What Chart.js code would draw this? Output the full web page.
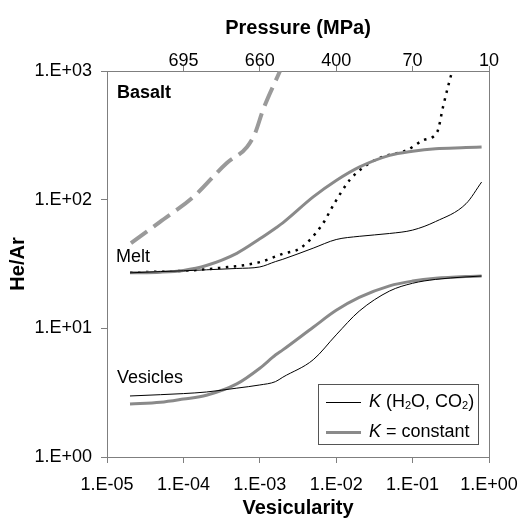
<!DOCTYPE html>
<html>
<head>
<meta charset="utf-8">
<title>He/Ar vs vesicularity</title>
<script src="https://cdn.jsdelivr.net/npm/chart.js@4.4.1/dist/chart.umd.min.js"></script>
<style>
    body { margin: 0; background: #fff; }
    #wrap { width: 522px; height: 520px; }
</style>
</head>
<body>
<div id="wrap"><canvas id="heArChart"></canvas></div>
<script>
// vesicularity steps shared by the four melt / vesicle curves
const vesicularity = [2e-5, 5e-5, 1e-4, 2e-4, 5e-4, 1e-3, 1.6e-3, 2e-3, 5e-3, 1e-2, 2e-2, 5e-2, 0.1, 0.2, 0.5, 0.8];

// He/Ar, K (H2O, CO2)
const meltVariableK = [27, 27.6, 28, 28.5, 29.2, 30, 33, 34.4, 42, 49, 51.9, 54.6, 58, 67.6, 93, 137];
const vesiclesVariableK = [2.98, 3.05, 3.11, 3.2, 3.43, 3.63, 3.85, 4.17, 5.7, 8.9, 13.6, 19.5, 22.4, 24, 25.1, 25.5];

// He/Ar, K = constant
const meltConstantK = [27, 27.3, 28.2, 30.8, 38.3, 49.6, 60, 66, 105, 141, 179, 221, 238, 249, 254, 257];
const vesiclesConstantK = [2.58, 2.66, 2.82, 3.02, 3.7, 4.9, 6.2, 6.8, 10.2, 13.8, 17.4, 21.4, 23.3, 24.5, 25.3, 25.5];

// dotted black curve
const dottedX = [2e-5, 1e-4, 3e-4, 1e-3, 2e-3, 3.4e-3, 6.5e-3, 9.5e-3, 1.5e-2, 2.2e-2, 3.7e-2, 8.5e-2, 0.14, 0.21, 0.25, 0.29, 0.33];
const dottedY = [27.2, 28, 29.5, 32.7, 38, 42, 63.5, 94, 142, 176, 211, 243, 291, 336, 525, 751, 1000];

// dashed grey curve
const dashedX = [2.06e-5, 4.9e-5, 1.35e-4, 3.7e-4, 6.8e-4, 8.7e-4, 1.1e-3, 1.84e-3];
const dashedY = [46, 67, 105, 193, 257, 330, 497, 1000];

const xTicks = [1e-5, 1e-4, 1e-3, 1e-2, 1e-1, 1];
const xTickLabels = ['1.E-05', '1.E-04', '1.E-03', '1.E-02', '1.E-01', '1.E+00'];
const pressureTicks = [1e-4, 1e-3, 1e-2, 1e-1, 1];
const pressureLabels = ['695', '660', '400', '70', '10'];
const yTicks = [1, 10, 100, 1000];
const yTickLabels = ['1.E+00', '1.E+01', '1.E+02', '1.E+03'];

const FONT = "'Liberation Sans', Arial, sans-serif";
const AXIS_GREY = '#7f7f7f';
const LINE_GREY = '#8a8a8a';

function toPoints(xs, ys) {
    return xs.map((x, i) => ({ x: x, y: ys[i] }));
}

// draws the rich text pieces (italic K, subscripts) one after another
function drawRich(ctx, parts, x, y) {
    parts.forEach(p => {
        const size = p.sub ? 11 : 18;
        ctx.font = (p.italic ? 'italic ' : '') + size + 'px ' + FONT;
        ctx.fillText(p.t, x, y + (p.sub ? 4 : 0));
        x += ctx.measureText(p.t).width;
    });
}

const extras = {
    id: 'extras',
    afterDraw(chart) {
        const ctx = chart.ctx;
        const area = chart.chartArea;
        const xs = chart.scales.x;
        const ys = chart.scales.y;
        ctx.save();

        // right frame line
        ctx.strokeStyle = AXIS_GREY;
        ctx.lineWidth = 1;
        ctx.beginPath();
        ctx.moveTo(Math.round(area.right) + 0.5, area.top);
        ctx.lineTo(Math.round(area.right) + 0.5, area.bottom);
        ctx.stroke();

        // text inside the plot
        ctx.fillStyle = '#000';
        ctx.textAlign = 'left';
        ctx.textBaseline = 'middle';
        ctx.font = 'bold 18px ' + FONT;
        ctx.fillText('Basalt', xs.getPixelForValue(1.35e-5), ys.getPixelForValue(680));
        ctx.font = '18px ' + FONT;
        ctx.fillText('Melt', xs.getPixelForValue(1.31e-5), ys.getPixelForValue(36));
        ctx.fillText('Vesicles', xs.getPixelForValue(1.35e-5), ys.getPixelForValue(4.1));

        // legend box
        const boxW = 160, boxH = 60;
        const right = Math.round(area.right) - 11;
        const bottom = Math.round(area.bottom) - 13;
        const left = right - boxW, top = bottom - boxH;
        ctx.fillStyle = '#fff';
        ctx.fillRect(left, top, boxW, boxH);
        ctx.strokeStyle = '#555';
        ctx.lineWidth = 1;
        ctx.strokeRect(left + 0.5, top + 0.5, boxW, boxH);

        const rows = [
            { width: 1, color: '#000', parts: [{ t: 'K', italic: true }, { t: ' (H' }, { t: '2', sub: true }, { t: 'O, CO' }, { t: '2', sub: true }, { t: ')' }] },
            { width: 3, color: LINE_GREY, parts: [{ t: 'K', italic: true }, { t: ' = constant' }] }
        ];
        rows.forEach((row, i) => {
            const cy = top + 18 + i * 30;
            ctx.strokeStyle = row.color;
            ctx.lineWidth = row.width;
            ctx.beginPath();
            ctx.moveTo(left + 8, cy + 0.5);
            ctx.lineTo(left + 43, cy + 0.5);
            ctx.stroke();
            ctx.fillStyle = '#000';
            drawRich(ctx, row.parts, left + 51, cy);
        });
        ctx.restore();
    }
};

function thinLine(data) {
    return { data: data, borderColor: '#000', borderWidth: 1, pointRadius: 0, cubicInterpolationMode: 'monotone' };
}
function thickLine(data) {
    return { data: data, borderColor: LINE_GREY, borderWidth: 3, pointRadius: 0, cubicInterpolationMode: 'monotone' };
}

// fixed axis boxes so the plot area lands where the original has it
function fixHorizontal(height) {
    return axis => {
        axis.height = height;
        axis.paddingLeft = 0;
        axis.paddingRight = 0;
    };
}

new Chart(document.getElementById('heArChart'), {
    type: 'line',
    data: {
        datasets: [
            thinLine(toPoints(vesicularity, meltVariableK)),
            thinLine(toPoints(vesicularity, vesiclesVariableK)),
            thickLine(toPoints(vesicularity, meltConstantK)),
            thickLine(toPoints(vesicularity, vesiclesConstantK)),
            {
                data: toPoints(dashedX, dashedY),
                borderColor: '#9a9a9a',
                borderWidth: 4,
                borderDash: [20, 8],
                pointRadius: 0,
                cubicInterpolationMode: 'monotone'
            },
            {
                data: toPoints(dottedX, dottedY),
                borderColor: '#000',
                borderWidth: 2.5,
                borderDash: [2.5, 5.5],
                pointRadius: 0,
                cubicInterpolationMode: 'monotone'
            }
        ]
    },
    options: {
        responsive: true,
        maintainAspectRatio: false,
        animation: false,
        layout: { padding: { left: 0, right: 33, top: 0, bottom: 0 } },
        plugins: {
            legend: { display: false },
            tooltip: { enabled: false }
        },
        scales: {
            x: {
                type: 'logarithmic',
                position: 'bottom',
                min: 1e-5,
                max: 1,
                afterBuildTicks: axis => { axis.ticks = xTicks.map(v => ({ value: v })); },
                afterFit: fixHorizontal(63),
                ticks: {
                    color: '#000',
                    font: { family: FONT, size: 18 },
                    padding: 11,
                    maxRotation: 0,
                    autoSkip: false,
                    callback: (value, index) => xTickLabels[index]
                },
                grid: { drawOnChartArea: false, drawTicks: true, tickLength: 6, color: AXIS_GREY },
                border: { display: true, color: AXIS_GREY },
                title: {
                    display: true,
                    text: 'Vesicularity',
                    color: '#000',
                    font: { family: FONT, size: 20, weight: 'bold' },
                    padding: 0
                }
            },
            xTop: {
                type: 'logarithmic',
                position: 'top',
                min: 1e-5,
                max: 1,
                afterBuildTicks: axis => { axis.ticks = pressureTicks.map(v => ({ value: v })); },
                afterFit: fixHorizontal(71),
                ticks: {
                    color: '#000',
                    font: { family: FONT, size: 18 },
                    padding: -6,
                    maxRotation: 0,
                    autoSkip: false,
                    callback: (value, index) => pressureLabels[index]
                },
                grid: { drawOnChartArea: false, drawTicks: true, tickLength: 5, color: AXIS_GREY },
                border: { display: true, color: AXIS_GREY },
                title: {
                    display: true,
                    text: 'Pressure (MPa)',
                    color: '#000',
                    font: { family: FONT, size: 20, weight: 'bold' },
                    padding: { top: 16, bottom: 0 }
                }
            },
            y: {
                type: 'logarithmic',
                min: 1,
                max: 1000,
                afterBuildTicks: axis => { axis.ticks = yTicks.map(v => ({ value: v })); },
                afterFit: axis => {
                    axis.width = 107;
                    axis.paddingTop = 0;
                    axis.paddingBottom = 0;
                },
                ticks: {
                    color: '#000',
                    font: { family: FONT, size: 18 },
                    padding: 9,
                    autoSkip: false,
                    callback: (value, index) => yTickLabels[index]
                },
                grid: { drawOnChartArea: false, drawTicks: true, tickLength: 6, color: AXIS_GREY },
                border: { display: true, color: AXIS_GREY },
                title: {
                    display: true,
                    text: 'He/Ar',
                    color: '#000',
                    font: { family: FONT, size: 20, weight: 'bold' },
                    padding: { top: 6, bottom: 0 }
                }
            }
        }
    },
    plugins: [extras]
});
</script>
</body>
</html>
